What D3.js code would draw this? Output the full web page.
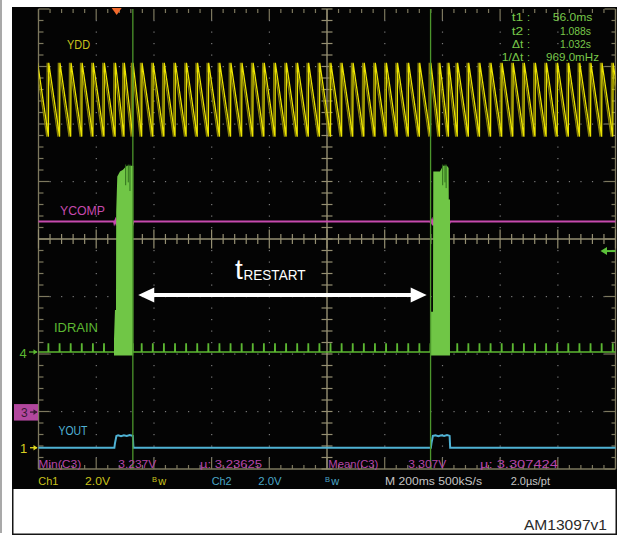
<!DOCTYPE html>
<html><head><meta charset="utf-8">
<script src="https://cdn.jsdelivr.net/npm/d3@7"></script>
<style>
body{margin:0;background:#fff}
svg{display:block}
text{font-family:"Liberation Sans",Arial,sans-serif}
</style>
</head><body>
<svg id="c" width="617" height="536"></svg>
<script>
// ---------------- DATA ----------------
const timePerDivMs = 200;
const triggerDiv = 1.355;             // trigger position, divisions from left edge
const cursorTimesMs = [56, 1088];
// VDD (Ch1, volts): sawtooth rise instants
const vddRiseMs = [-275.2,-236.7,-197.9,-159.4,-121.0,-82.5,-44.0,-5.5,
  25.3,55.5,
  86.7,125.2,163.7,202.2,240.7,279.2,317.7,356.2,394.7,433.2,471.7,510.2,548.7,587.2,
  625.7,664.2,702.7,741.2,779.7,818.2,856.7,895.2,933.7,972.2,1010.7,1049.2,1087.7,
  1118.8,1150.0,
  1180.5,1219.0,1257.5,1296.0,1334.5,1373.0,1411.5,1450.0,1488.5,1527.0,1565.5,1604.0,
  1642.5,1681.0,1719.5,1758.0];
const vddLowV = 10.82;
const vddHighV = 13.39;
// IDRAIN (Ch4, divisions): small switching spikes and two bursts
const idrainSpikeDiv = 0.14;
const idrainBurst1 = [[-9.4,0.21],[-6.0,0.73],[-2.4,0.73],[-1.7,2.44],[2.1,3.05],[11.4,3.14],
  [21.8,3.17],[28.8,3.21],[35.7,3.24],[49.6,3.24],[57.5,3.24]];
const idrainBurst2 = [[1088.3,0.70],[1096.3,0.70],[1097.4,3.14],[1120.6,3.14],[1131.0,3.24],
  [1144.8,3.24],[1150.5,3.20],[1151.1,2.65],[1155.3,2.65]];
const idrainBurstGaps = [[31.2,2.9],[40.2,2.95],[46.1,2.8],[1130.0,2.9],[1138.0,2.95],[1142.0,2.85]];
// YCOMP (Ch3, volts)
const ycompV = [[-275,3.315],[-9,3.315],[-8,3.29],[-4,3.34],[0,3.25],[4,3.33],[8,3.26],[12,3.34],
  [16,3.24],[20,3.33],[24,3.25],[28,3.34],[32,3.26],[36,3.33],[40,3.24],[44,3.32],[48,3.26],
  [52,3.33],[56,3.28],[58,3.315],[1087,3.315],[1089,3.29],[1093,3.34],[1097,3.25],[1101,3.33],
  [1105,3.26],[1109,3.34],[1113,3.24],[1117,3.33],[1121,3.25],[1125,3.34],[1129,3.26],[1133,3.33],
  [1137,3.24],[1141,3.32],[1145,3.26],[1149,3.33],[1153,3.28],[1156,3.315],[1735,3.315]];
// YOUT (Ch2, volts)
const youtV = [[-275,0],[-8,0],[-6,0.15],[-1,0.41],[5,0.43],[15,0.40],[25,0.43],[35,0.41],
  [45,0.44],[54,0.42],[56,0.41],[58,0],[1089,0],[1091,0.15],[1096,0.41],[1105,0.43],
  [1115,0.40],[1125,0.43],[1135,0.41],[1145,0.44],[1152,0.42],[1154,0.41],[1156,0],[1735,0]];
// texts
const traceLabels = ["YDD","YCOMP","IDRAIN","YOUT"];
const readoutLabels = ["t1","t2","\u0394t","1/\u0394t"];
const readoutValues = ["56.0ms","1.088s","1.032s","969.0mHz"];
const measureTexts = ["Min(C3)","3.237V","\u00b5: 3.23625","Mean(C3)","3.307V","\u00b5: 3.307424"];
const statusTexts = ["Ch1","2.0V","Ch2","2.0V","M 200ms 500kS/s","2.0\u00b5s/pt"];
const arrowLabelMain = "t";
const arrowLabelSub = "RESTART";
const figureId = "AM13097v1";

// ---------------- LAYOUT ----------------
const svg = d3.select("#c");
const L = 38.5, R = 615.5, T = 9, B = 469;
const divW = (R - L) / 10, divH = (B - T) / 8;
const x = d3.scaleLinear()
  .domain([-triggerDiv * timePerDivMs, (10 - triggerDiv) * timePerDivMs])
  .range([L, R]);
const yDiv = d3.scaleLinear().domain([-4, 4]).range([B, T]);
const chan = {
  ch1: {gnd: -3.63, vdiv: 2},
  ch2: {gnd: -3.63, vdiv: 2},
  ch3: {gnd: -3.01, vdiv: 1},
  ch4: {gnd: -1.965, vdiv: 1}
};
const yCh = c => v => yDiv(chan[c].gnd + v / chan[c].vdiv);
const col = {yellow:"#ece400", yellowDim:"#c9c21c", ghost:"#857e08", magenta:"#c64aae",
  green:"#5cb832", burst:"#70c646", cyan:"#4fb2d4", grat:"#7d785e", cross:"#958f72",
  dot:"#7a7a7a", cursor:"#4c962c", readout:"#78c84a"};

// backgrounds / frame
svg.append("rect").attr("x",0).attr("y",0).attr("width",2).attr("height",533).attr("fill","#a9a9a9");
svg.append("rect").attr("x",12).attr("y",7).attr("width",605).attr("height",482).attr("fill","#040404");
svg.append("path").attr("d","M12.75,489 V534.25 H616.25 V489").attr("fill","none")
  .attr("stroke","#151515").attr("stroke-width",1.5);

// ---------------- GRATICULE ----------------
const g = svg.append("g");
const minorX = d3.range(0, 51).map(i => ({i, v: L + i * divW / 5}));
const minorY = d3.range(0, 41).map(i => ({i, v: T + i * divH / 5}));
const cx = L + 5 * divW, cy = T + 4 * divH;
// dots on major lines
const dots = [];
d3.range(1, 10).filter(k => k !== 5).forEach(k => minorY.forEach(m => {
  if (m.i > 0 && m.i < 40) dots.push([L + k * divW, m.v]);
}));
d3.range(1, 8).filter(k => k !== 4).forEach(k => minorX.forEach(m => {
  if (m.i > 0 && m.i < 50) dots.push([m.v, T + k * divH]);
}));
g.selectAll("rect.dot").data(dots).join("rect").attr("class","dot")
  .attr("x", d => d[0] - 0.5).attr("y", d => d[1] - 0.5).attr("width",1.2).attr("height",1.2)
  .attr("fill", col.dot);
// borders
g.append("line").attr("x1",L).attr("x2",L).attr("y1",T).attr("y2",B).attr("stroke",col.grat).attr("stroke-width",1.3);
g.append("line").attr("x1",R).attr("x2",R).attr("y1",T).attr("y2",B).attr("stroke",col.grat).attr("stroke-width",1.3);
g.append("line").attr("x1",L).attr("x2",R).attr("y1",B).attr("y2",B).attr("stroke",col.grat).attr("stroke-width",1.3);
// top & bottom ticks
g.selectAll("line.tt").data(minorX).join("line").attr("class","tt")
  .attr("x1",d=>d.v).attr("x2",d=>d.v).attr("y1",T).attr("y2",d=>T+(d.i%5===0?11:4))
  .attr("stroke",col.grat).attr("stroke-width",1.2);
g.selectAll("line.bt").data(minorX).join("line").attr("class","bt")
  .attr("x1",d=>d.v).attr("x2",d=>d.v).attr("y1",B).attr("y2",d=>B-(d.i%5===0?11:4))
  .attr("stroke",col.grat).attr("stroke-width",1.2);
// left & right ticks
g.selectAll("line.lt").data(minorY).join("line").attr("class","lt")
  .attr("y1",d=>d.v).attr("y2",d=>d.v).attr("x1",L).attr("x2",d=>L+(d.i%5===0?11:5))
  .attr("stroke",col.grat).attr("stroke-width",1.2);
g.selectAll("line.rt").data(minorY).join("line").attr("class","rt")
  .attr("y1",d=>d.v).attr("y2",d=>d.v).attr("x1",R).attr("x2",d=>R-(d.i%5===0?11:4))
  .attr("stroke",col.grat).attr("stroke-width",1.2);
// center cross
g.append("line").attr("x1",cx).attr("x2",cx).attr("y1",T).attr("y2",B).attr("stroke",col.cross).attr("stroke-width",1.4);
g.append("line").attr("x1",L).attr("x2",R).attr("y1",cy).attr("y2",cy).attr("stroke",col.cross).attr("stroke-width",1.4);
g.selectAll("line.cxt").data(minorY).join("line").attr("class","cxt")
  .attr("y1",d=>d.v).attr("y2",d=>d.v).attr("x1",cx-5.5).attr("x2",cx+5.5)
  .attr("stroke",col.cross).attr("stroke-width",1.2);
g.selectAll("line.cyt").data(minorX).join("line").attr("class","cyt")
  .attr("x1",d=>d.v).attr("x2",d=>d.v)
  .attr("y1",d=>cy-(d.i%5===0?9.5:5)).attr("y2",d=>cy+(d.i%5===0?9.5:5))
  .attr("stroke",col.cross).attr("stroke-width",1.2);

// ---------------- TRACES ----------------
svg.append("clipPath").attr("id","clip").append("rect")
  .attr("x",L).attr("y",T).attr("width",R-L).attr("height",B-T);
const tr = svg.append("g").attr("clip-path","url(#clip)");

// VDD
const y1 = yCh("ch1");
const vddPts = [];
vddRiseMs.forEach(r => { vddPts.push([r, vddLowV]); vddPts.push([r + 1.2, vddHighV]); });
const vddLine = d3.line().x(d => x(d[0])).y(d => y1(d[1]));
tr.append("path").attr("d", vddLine(vddPts)).attr("transform","translate(-1.6,0)")
  .attr("fill","none").attr("stroke",col.ghost).attr("stroke-width",1.3);
tr.append("path").attr("d", vddLine(vddPts))
  .attr("fill","none").attr("stroke",col.yellow).attr("stroke-width",1.3);

// YCOMP
const y3 = yCh("ch3");
tr.append("path").attr("d", d3.line().x(d=>x(d[0])).y(d=>y3(d[1]))(ycompV))
  .attr("fill","none").attr("stroke",col.magenta).attr("stroke-width",2);

// IDRAIN baseline with spikes
const y4 = yCh("ch4");
const idPts = [[x.domain()[0] - 10, 0]];
vddRiseMs.forEach(s => {
  idPts.push([s - 0.7, 0]); idPts.push([s - 0.35, idrainSpikeDiv]);
  idPts.push([s + 0.35, idrainSpikeDiv]); idPts.push([s + 0.7, 0]);
});
idPts.push([x.domain()[1] + 10, 0]);
tr.append("path").attr("d", d3.line().x(d=>x(d[0])).y(d=>y4(d[1]))(idPts))
  .attr("fill","none").attr("stroke",col.green).attr("stroke-width",1.6);
const burstArea = d3.area().x(d=>x(d[0])).y0(y4(-0.06)).y1(d=>y4(d[1])).curve(d3.curveLinear);
[idrainBurst1, idrainBurst2].forEach(b => {
  tr.append("path").attr("d", burstArea(b)).attr("fill", col.burst);
});
tr.selectAll("line.gap").data(idrainBurstGaps).join("line").attr("class","gap")
  .attr("x1",d=>x(d[0])).attr("x2",d=>x(d[0])).attr("y1",y4(3.26)).attr("y2",d=>y4(d[1]))
  .attr("stroke","#2f6e1c").attr("stroke-width",1);

// YOUT
const y2 = yCh("ch2");
tr.append("path").attr("d", d3.line().x(d=>x(d[0])).y(d=>y2(d[1]))(youtV))
  .attr("fill","none").attr("stroke",col.cyan).attr("stroke-width",2);

// cursors
svg.selectAll("line.cur").data(cursorTimesMs).join("line").attr("class","cur")
  .attr("x1",d=>x(d)).attr("x2",d=>x(d)).attr("y1",T).attr("y2",B)
  .attr("stroke",col.cursor).attr("stroke-width",1.3);

// trigger marker
const tx = x(0);
svg.append("path").attr("d",`M${tx-5},8 L${tx+5},8 L${tx},15 Z`).attr("fill","#f26a2c");
// trigger level arrow (right)
const tly = yDiv(-0.21);
svg.append("path").attr("d",`M${R},${tly} H${606}`).attr("stroke","#5cc23a").attr("stroke-width",2);
svg.append("path").attr("d",`M600.5,${tly} L607,${tly-4} L607,${tly+4} Z`).attr("fill","#5cc23a");

// ---------------- LABELS ----------------
const lab = svg.append("g").attr("font-size",12);
const labLayout = [
  {x:67, y:49, w:23, c:col.yellowDim},
  {x:60, y:215, w:45, c:col.magenta},
  {x:54, y:332, w:44, c:col.green},
  {x:58.5, y:434.5, w:29, c:col.cyan}
];
traceLabels.forEach((t,i) => {
  const p = labLayout[i];
  lab.append("text").attr("x",p.x).attr("y",p.y).attr("fill",p.c).text(t)
    .attr("textLength",p.w).attr("lengthAdjust","spacingAndGlyphs");
});

// left channel markers
function rightArrow(gx, yy, color) {
  svg.append("line").attr("x1",gx).attr("x2",37).attr("y1",yy).attr("y2",yy)
    .attr("stroke",color).attr("stroke-width",1.3);
  svg.append("path").attr("d",`M37.5,${yy} L33.5,${yy-2.8} L33.5,${yy+2.8} Z`).attr("fill",color);
}
const g4 = y4(0), g3 = y3(0), g1 = y1(0);
svg.append("text").attr("x",19.5).attr("y",g4+6.5).attr("font-size",13).attr("fill",col.green).text("4");
rightArrow(29, g4, col.green);
svg.append("rect").attr("x",14).attr("y",g3-8).attr("width",24).attr("height",16.5).attr("fill","#b2479e");
svg.append("text").attr("x",21).attr("y",g3+5).attr("font-size",12).attr("fill","#3a1a34").text("3");
rightArrow(30, g3, "#3a1a34");
svg.append("text").attr("x",20).attr("y",g1+5.5).attr("font-size",13).attr("fill","#d8d020").text("1");
rightArrow(30, g1, "#e0d820");

// double arrow t_RESTART
const ay = 295;
const ax1 = x(cursorTimesMs[0]) + 5.4, ax2 = x(cursorTimesMs[1]) - 3.9;
svg.append("rect").attr("x",ax1+14).attr("y",ay-2).attr("width",ax2-ax1-28).attr("height",4).attr("fill","#fff");
svg.append("path").attr("d",`M${ax1},${ay} L${ax1+16},${ay-7.5} L${ax1+16},${ay+7.5} Z`).attr("fill","#fff");
svg.append("path").attr("d",`M${ax2},${ay} L${ax2-16},${ay-7.5} L${ax2-16},${ay+7.5} Z`).attr("fill","#fff");
svg.append("text").attr("x",235).attr("y",279).attr("font-size",28).attr("fill","#fff").text(arrowLabelMain);
svg.append("text").attr("x",243.5).attr("y",280).attr("font-size",14).attr("fill","#fff")
  .attr("textLength",62).attr("lengthAdjust","spacingAndGlyphs").text(arrowLabelSub);

// readouts
const roY = [21, 34.5, 47.5, 60.5];
const roValX = [[552.7,39.6],[560,31],[560,31],[546,53]];
const roLabX = [[511.7,11.5],[511.7,11.5],[512,11.3],[501.7,21.6]];
const ro = svg.append("g").attr("font-size",11).attr("fill",col.readout);
readoutLabels.forEach((t,i) => {
  ro.append("text").attr("x",roLabX[i][0]).attr("y",roY[i]).text(t)
    .attr("textLength",roLabX[i][1]).attr("lengthAdjust","spacingAndGlyphs");
  ro.append("text").attr("x",527).attr("y",roY[i]).text(":");
  ro.append("text").attr("x",roValX[i][0]).attr("y",roY[i]).text(readoutValues[i])
    .attr("textLength",roValX[i][1]).attr("lengthAdjust","spacingAndGlyphs");
});

// measurement row
const msX = [[38.3,43],[118.3,38],[200,62],[328.3,50],[408.3,38],[480,78]];
const ms = svg.append("g").attr("font-size",11).attr("fill","#b545a8");
measureTexts.forEach((t,i) => {
  ms.append("text").attr("x",msX[i][0]).attr("y",467.5).text(t)
    .attr("textLength",msX[i][1]).attr("lengthAdjust","spacingAndGlyphs");
});

// status row
const stLayout = [[38.3,20,"#c9c21c"],[85,25,"#c9c21c"],[211.7,20,"#4aa6c6"],[258.3,23.4,"#4aa6c6"],
  [385,97,"#c4c4c4"],[510.7,39.3,"#c4c4c4"]];
const st = svg.append("g").attr("font-size",11);
statusTexts.forEach((t,i) => {
  st.append("text").attr("x",stLayout[i][0]).attr("y",485).attr("fill",stLayout[i][2]).text(t)
    .attr("textLength",stLayout[i][1]).attr("lengthAdjust","spacingAndGlyphs");
});
[[152,"#c9c21c"],[325,"#4aa6c6"]].forEach(([bx,c]) => {
  st.append("text").attr("x",bx).attr("y",482).attr("font-size",7.5).attr("fill",c).text("B");
  st.append("text").attr("x",bx+6.2).attr("y",485).attr("font-size",11).attr("fill",c).text("w");
});

// figure id
svg.append("text").attr("x",524).attr("y",530).attr("font-size",15).attr("fill","#2a2a2a")
  .attr("textLength",83).attr("lengthAdjust","spacingAndGlyphs").text(figureId);
</script>
</body></html>
